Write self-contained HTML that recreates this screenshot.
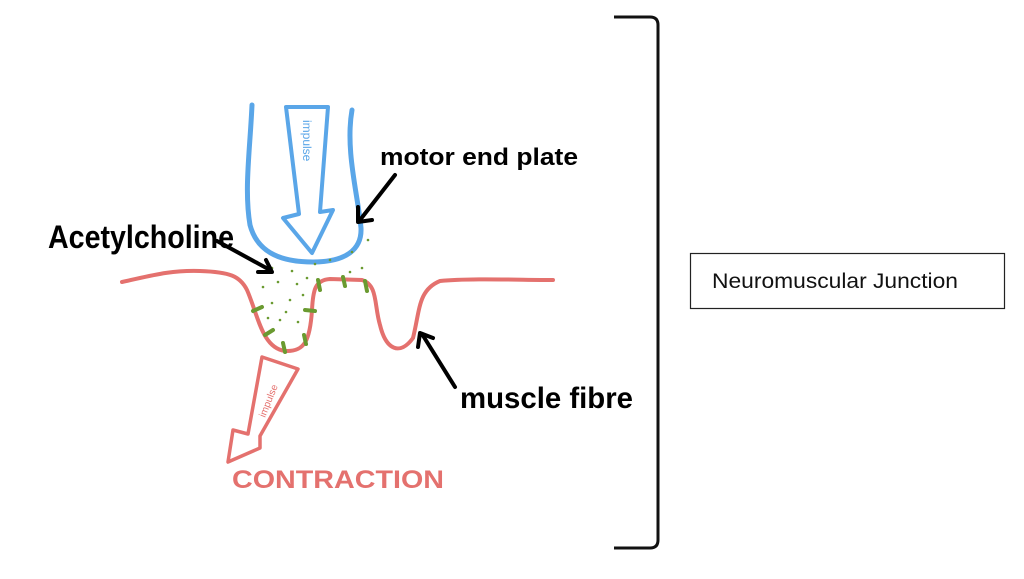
<!DOCTYPE html>
<html><head><meta charset="utf-8"><style>
html,body{margin:0;padding:0;background:#fff;width:1024px;height:579px;overflow:hidden}
svg{display:block}
.hw{font-family:"Liberation Sans",sans-serif;font-weight:bold}
</style></head><body>
<svg width="1024" height="579" viewBox="0 0 1024 579" xmlns="http://www.w3.org/2000/svg">
<path d="M614 17 L650 17 Q658 17 658 25 L658 540 Q658 548 650 548 L614 548" fill="none" stroke="#111" stroke-width="3"/>
<rect x="690.5" y="253.5" width="314" height="55" fill="#fff" stroke="#222" stroke-width="1.2"/>
<text x="712" y="288" font-family="Liberation Sans, sans-serif" font-size="21" fill="#111" textLength="246" lengthAdjust="spacingAndGlyphs">Neuromuscular Junction</text>

<path d="M252 105 C250 150 244 190 250 225 C258 255 285 262 313 262 C345 262 362 250 361 228 C358 195 345 150 352 110" fill="none" stroke="#5aa6e8" stroke-width="5" stroke-linecap="round"/>
<path d="M286 107 L328 107 L320 212 L333 210 L312 253 L283 218 L299 214 Z" fill="none" stroke="#5aa6e8" stroke-width="4" stroke-linejoin="round"/>
<text x="0" y="0" transform="translate(303 120) rotate(90)" font-family="Liberation Sans, sans-serif" font-size="12" fill="#5aa6e8">impulse</text>

<path d="M122 282 C150 276 170 270 200 271 C230 272 240 276 247 290 C258 315 262 348 285 351 C305 352 310 340 312 310 C313 290 315 280 330 279 L362 280 C378 285 374 305 380 325 C386 350 400 356 413 338 C420 310 418 290 440 281 C470 278 520 280 553 280" fill="none" stroke="#e4716e" stroke-width="4" stroke-linecap="round"/>

<g stroke="#6a9a30" stroke-width="4" stroke-linecap="round">
<line x1="253" y1="311" x2="262" y2="307"/>
<line x1="265" y1="335" x2="273" y2="330"/>
<line x1="283" y1="343" x2="285" y2="352"/>
<line x1="304" y1="335" x2="306" y2="344"/>
<line x1="305" y1="310" x2="315" y2="311"/>
<line x1="318" y1="280" x2="320" y2="290"/>
<line x1="343" y1="277" x2="345" y2="286"/>
<line x1="365" y1="281" x2="367" y2="291"/>
</g>
<g fill="#6a9a30">
<circle cx="257" cy="262" r="1.3"/><circle cx="272" cy="268" r="1.3"/><circle cx="292" cy="271" r="1.3"/><circle cx="315" cy="264" r="1.3"/><circle cx="330" cy="260" r="1.3"/><circle cx="352" cy="252" r="1.3"/><circle cx="368" cy="240" r="1.3"/>
<circle cx="263" cy="287" r="1.3"/><circle cx="278" cy="282" r="1.3"/><circle cx="297" cy="284" r="1.3"/><circle cx="307" cy="278" r="1.3"/><circle cx="350" cy="272" r="1.3"/><circle cx="362" cy="268" r="1.3"/>
<circle cx="272" cy="303" r="1.3"/><circle cx="290" cy="300" r="1.3"/><circle cx="303" cy="295" r="1.3"/><circle cx="280" cy="320" r="1.3"/><circle cx="298" cy="322" r="1.3"/><circle cx="268" cy="318" r="1.3"/><circle cx="286" cy="312" r="1.3"/>
</g>

<path d="M262 357 L298 369 L260 436 L260 448 L228 462 L233 430 L248 434 Z" fill="none" stroke="#e4716e" stroke-width="3.5" stroke-linejoin="round"/>
<text x="0" y="0" transform="translate(265 418) rotate(-68)" font-family="Liberation Sans, sans-serif" font-size="10" fill="#e4716e">impulse</text>
<text x="232" y="488" class="hw" font-size="25" fill="#e4716e" textLength="212" lengthAdjust="spacingAndGlyphs">CONTRACTION</text>

<text x="48" y="248" class="hw" font-size="32" fill="#000" textLength="186" lengthAdjust="spacingAndGlyphs">Acetylcholine</text>
<text x="380" y="165" class="hw" font-size="24" fill="#000" textLength="198" lengthAdjust="spacingAndGlyphs">motor end plate</text>
<text x="460" y="408" class="hw" font-size="30" fill="#000" textLength="173" lengthAdjust="spacingAndGlyphs">muscle fibre</text>

<g stroke="#000" stroke-width="4" fill="none" stroke-linecap="round" stroke-linejoin="round">
<path d="M217 241 L270 270"/><path d="M258 272 L272 272 L266 260"/>
<path d="M395 175 L360 220"/><path d="M358 207 L358 222 L372 220"/>
<path d="M455 387 L422 334"/><path d="M418 347 L420 333 L433 338"/>
</g>
</svg>
</body></html>
